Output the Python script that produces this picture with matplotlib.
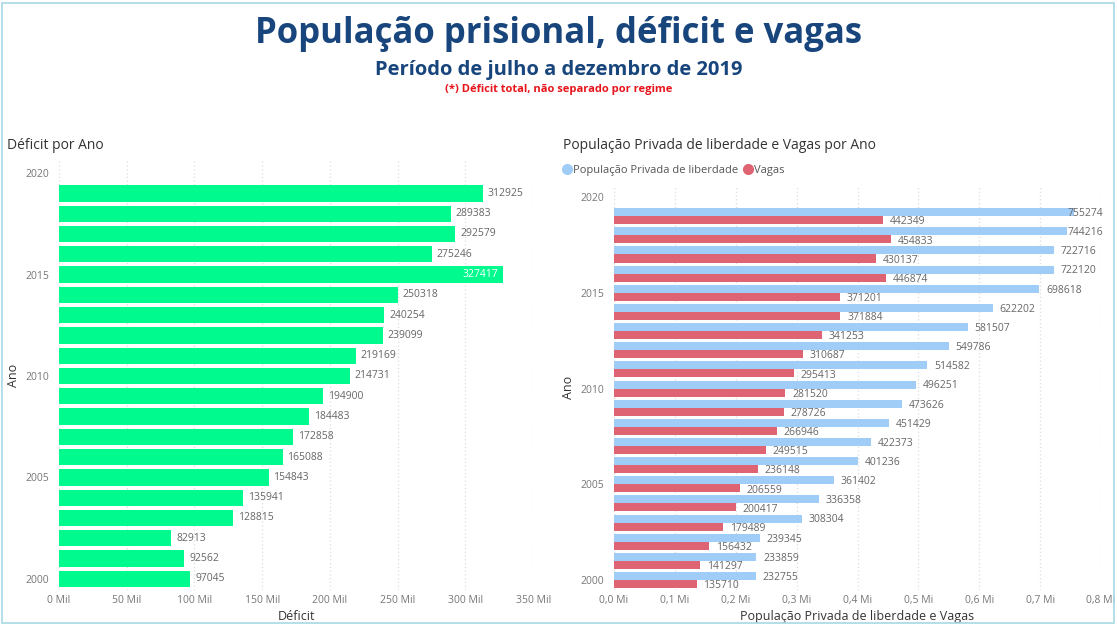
import matplotlib.pyplot as plt
import matplotlib.patches as mpatches
from matplotlib.lines import Line2D
import numpy as np

plt.rcParams['font.family'] = ['Open Sans', 'DejaVu Sans']

anos = list(range(2000, 2020))
deficit = [97045, 92562, 82913, 128815, 135941, 154843, 165088, 172858, 184483, 194900,
           214731, 219169, 239099, 240254, 250318, 327417, 275246, 292579, 289383, 312925]
populacao = [232755, 233859, 239345, 308304, 336358, 361402, 401236, 422373, 451429, 473626,
             496251, 514582, 549786, 581507, 622202, 698618, 722120, 722716, 744216, 755274]
vagas = [135710, 141297, 156432, 179489, 200417, 206559, 236148, 249515, 266946, 278726,
         281520, 295413, 310687, 341253, 371884, 371201, 446874, 430137, 454833, 442349]

verde = '#00FA8E'
azul = '#A0CDF8'
vermelho = '#DE6473'
cinza = '#666666'
titulo_cor = '#17457C'

fig = plt.figure(figsize=(11.17, 6.26), dpi=100)

fig.text(0.5, 0.945, 'População prisional, déficit e vagas', ha='center', va='center',
         fontsize=25, fontweight='bold', color=titulo_cor)
fig.text(0.5, 0.888, 'Período de julho a dezembro de 2019', ha='center', va='center',
         fontsize=14.5, fontweight='bold', color=titulo_cor)
fig.text(0.5, 0.857, '(*) Déficit total, não separado por regime', ha='center', va='center',
         fontsize=8, fontweight='bold', color='#E8141B')

# moldura
fig.patches.append(mpatches.Rectangle((0.002, 0.004), 0.995, 0.992, transform=fig.transFigure,
                                      fill=False, edgecolor='#A8D8E4', lw=1.2))


def estilo(ax, ylim):
    for s in ax.spines.values():
        s.set_visible(False)
    ax.set_ylim(*ylim)
    ax.set_yticks([2000, 2005, 2010, 2015, 2020])
    ax.tick_params(axis='both', length=0, labelsize=7.5, labelcolor='#777777')
    ax.tick_params(axis='y', pad=7)
    ax.grid(axis='x', color='#DDDDDD', linestyle=(0, (1, 2)), lw=0.9)
    ax.set_axisbelow(True)


# Déficit por Ano
ax1 = fig.add_axes([0.0528, 0.0575, 0.4245, 0.687])
ax1.barh(anos, deficit, height=0.8, color=verde)
estilo(ax1, (1999.45, 2020.65))
ax1.set_xlim(0, 350000)
ax1.set_xticks(np.arange(0, 350001, 50000))
ax1.set_xticklabels([f'{int(v / 1000)} Mil' for v in np.arange(0, 350001, 50000)])
for a, v in zip(anos, deficit):
    if v > 320000:
        ax1.text(v - 3000, a, str(v), ha='right', va='center', fontsize=7.5, color='white')
    else:
        ax1.text(v + 3500, a, str(v), ha='left', va='center', fontsize=7.5, color=cinza)
ax1.set_xlabel('Déficit', fontsize=9, color='#333333', labelpad=3)
ax1.set_ylabel('Ano', fontsize=9, color='#333333', labelpad=4)
fig.text(0.006, 0.768, 'Déficit por Ano', fontsize=10, color='#333333', va='center')

# População e Vagas
ax2 = fig.add_axes([0.5497, 0.0575, 0.436, 0.647])
anos_arr = np.array(anos)
ax2.barh(anos_arr + 0.21, populacao, height=0.42, color=azul)
ax2.barh(anos_arr - 0.21, vagas, height=0.42, color=vermelho)
estilo(ax2, (1999.48, 2020.63))
ax2.set_xlim(0, 800000)
ticks2 = np.arange(0, 800001, 100000)
ax2.set_xticks(ticks2)
ax2.set_xticklabels([f'{v / 1e6:.1f} Mi'.replace('.', ',') for v in ticks2])
for a, p, v in zip(anos, populacao, vagas):
    ax2.text(min(p + 11000, 745000), a + 0.14, str(p), ha='left', va='center',
             fontsize=7.5, color=cinza)
    ax2.text(v + 11000, a - 0.3, str(v), ha='left', va='center', fontsize=7.5, color=cinza)
ax2.set_xlabel('População Privada de liberdade e Vagas', fontsize=9, color='#333333', labelpad=3)
ax2.set_ylabel('Ano', fontsize=9, color='#333333', labelpad=4)
fig.text(0.504, 0.768, 'População Privada de liberdade e Vagas por Ano', fontsize=10,
         color='#333333', va='center')

handles = [Line2D([], [], marker='o', linestyle='', color=azul, markersize=7),
           Line2D([], [], marker='o', linestyle='', color=vermelho, markersize=7)]
fig.legend(handles, ['População Privada de liberdade', 'Vagas'], loc='center left',
           bbox_to_anchor=(0.493, 0.728), ncol=2, frameon=False, fontsize=8,
           handletextpad=-0.1, columnspacing=0.3, labelcolor='#555555', handlelength=1.2)

fig.savefig('out.png', dpi=100)
